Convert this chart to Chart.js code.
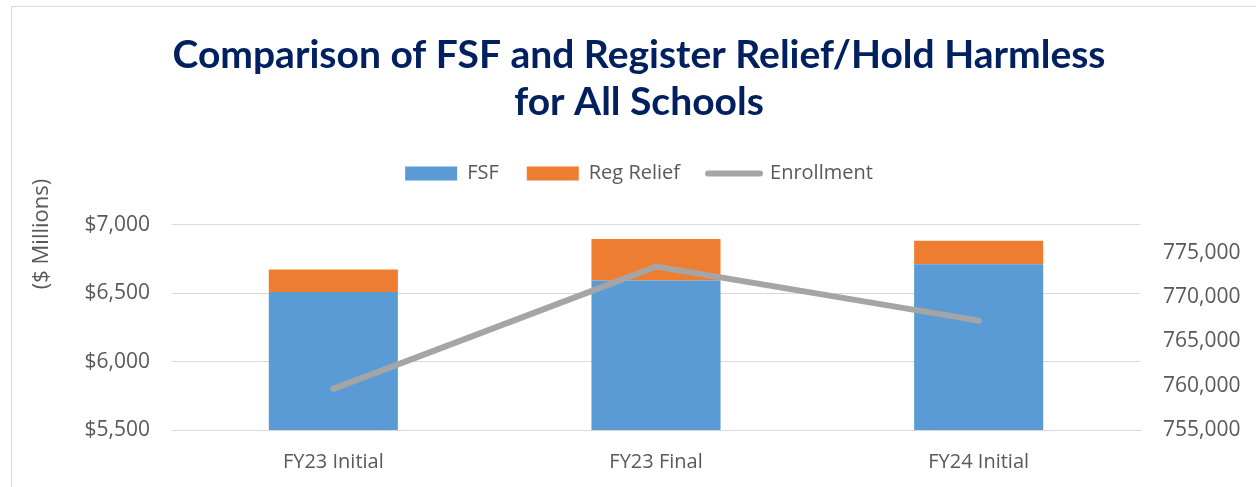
<!DOCTYPE html>
<html>
<head>
<meta charset="utf-8">
<script src="https://cdn.jsdelivr.net/npm/chart.js@4.4.1/dist/chart.umd.min.js"></script>
<style>
  html, body { margin: 0; padding: 0; background: #fff; overflow: hidden; }
  #wrap { position: relative; width: 1256px; height: 487px; }
  #frame { position: absolute; left: 11px; top: 6px; width: 1300px; height: 600px; border: 1px solid #d9d9d9; box-sizing: border-box; }
  canvas { position: absolute; left: 0; top: 0; }
</style>
</head>
<body>
<div id="wrap">
  <div id="frame"></div>
  <canvas id="myChart" width="1256" height="487"></canvas>
</div>
<script>
// chart data
const categories = ['FY23 Initial', 'FY23 Final', 'FY24 Initial'];
const fsfValues = [6507, 6592, 6710];          // $ millions
const regReliefValues = [166, 302, 172];       // $ millions, stacked on top of FSF
const enrollmentValues = [759650, 773450, 767350];

const leftTicks = [5500, 6000, 6500, 7000];
const rightTicks = [755000, 760000, 765000, 770000, 775000];

const textColor = '#595959';
const baseFont = "'Open Sans', sans-serif";

// draws the "($ Millions)" axis title where Excel put it (not centred on the axis)
const axisTitle = {
    id: 'axisTitle',
    afterDraw(chart) {
        const ctx = chart.ctx;
        ctx.save();
        ctx.translate(42, 234);
        ctx.rotate(-Math.PI / 2);
        ctx.font = "22px " + baseFont;
        ctx.fillStyle = textColor;
        ctx.textAlign = 'center';
        ctx.textBaseline = 'middle';
        ctx.fillText('($ Millions)', 0, 0);
        ctx.restore();
    }
};

const data = {
    labels: categories,
    datasets: [
        {
            type: 'line',
            label: 'Enrollment',
            data: enrollmentValues,
            yAxisID: 'y2',
            borderColor: '#a5a5a5',
            backgroundColor: '#a5a5a5',
            borderWidth: 6,
            borderCapStyle: 'round',
            pointRadius: 0,
            tension: 0,
            order: 1
        },
        {
            type: 'bar',
            label: 'FSF',
            data: fsfValues,
            yAxisID: 'y',
            backgroundColor: '#5b9bd5',
            barPercentage: 0.4,
            categoryPercentage: 1,
            order: 2
        },
        {
            type: 'bar',
            label: 'Reg Relief',
            data: regReliefValues,
            yAxisID: 'y',
            backgroundColor: '#ed7d31',
            barPercentage: 0.4,
            categoryPercentage: 1,
            order: 2
        }
    ]
};

const config = {
    type: 'bar',
    data: data,
    plugins: [axisTitle],
    options: {
        responsive: false,
        animation: false,
        layout: { padding: { left: 22, right: 0, top: 0, bottom: -7 } },
        plugins: {
            title: {
                display: true,
                text: ['Comparison of FSF and Register Relief/Hold Harmless', 'for All Schools'],
                color: '#002060',
                font: { family: "Lato, sans-serif", size: 39, weight: 'bold', lineHeight: 1.2 },
                padding: { top: 32, bottom: 10 }
            },
            // empty subtitle used only as a gap between the legend and the plot
            subtitle: {
                display: true,
                text: '',
                weight: 500,
                font: { size: 10, lineHeight: 1 },
                padding: { top: 21, bottom: 0 }
            },
            legend: {
                display: true,
                position: 'top',
                labels: {
                    color: textColor,
                    font: { family: baseFont, size: 20 },
                    usePointStyle: true,
                    pointStyleWidth: 52,
                    boxHeight: 14,
                    padding: 28,
                    generateLabels(chart) {
                        // legend order as in the reference: FSF, Reg Relief, Enrollment
                        const ds = chart.data.datasets;
                        return [1, 2, 0].map(i => ({
                            text: ds[i].label,
                            datasetIndex: i,
                            fillStyle: ds[i].backgroundColor,
                            strokeStyle: ds[i].borderColor || ds[i].backgroundColor,
                            lineWidth: ds[i].type === 'line' ? 6 : 0,
                            lineCap: 'round',
                            pointStyle: ds[i].type === 'line' ? 'line' : 'rect',
                            fontColor: textColor,
                            hidden: false
                        }));
                    }
                }
            },
            tooltip: { enabled: false }
        },
        scales: {
            x: {
                stacked: true,
                grid: { display: false, drawTicks: false },
                border: { display: true, color: '#d9d9d9', width: 1 },
                ticks: { color: textColor, font: { family: baseFont, size: 20 }, padding: 20 }
            },
            y: {
                stacked: true,
                position: 'left',
                min: leftTicks[0],
                max: leftTicks[leftTicks.length - 1],
                afterBuildTicks(scale) { scale.ticks = leftTicks.map(v => ({ value: v })); },
                afterFit(scale) { scale.width = 150; },
                grid: { color: '#d9d9d9', lineWidth: 1, drawTicks: false },
                border: { display: false },
                ticks: {
                    color: textColor,
                    font: { family: baseFont, size: 21 },
                    padding: 22,
                    callback: v => '$' + v.toLocaleString('en-US')
                }
            },
            y2: {
                position: 'right',
                min: 755000,
                max: 778200,
                afterBuildTicks(scale) { scale.ticks = rightTicks.map(v => ({ value: v })); },
                afterFit(scale) { scale.width = 116; },
                grid: { display: false, drawTicks: false },
                border: { display: false },
                ticks: {
                    color: textColor,
                    font: { family: baseFont, size: 21 },
                    padding: 23,
                    callback: v => v.toLocaleString('en-US')
                }
            }
        }
    }
};

const myChart = new Chart(document.getElementById('myChart'), config);
</script>
</body>
</html>
